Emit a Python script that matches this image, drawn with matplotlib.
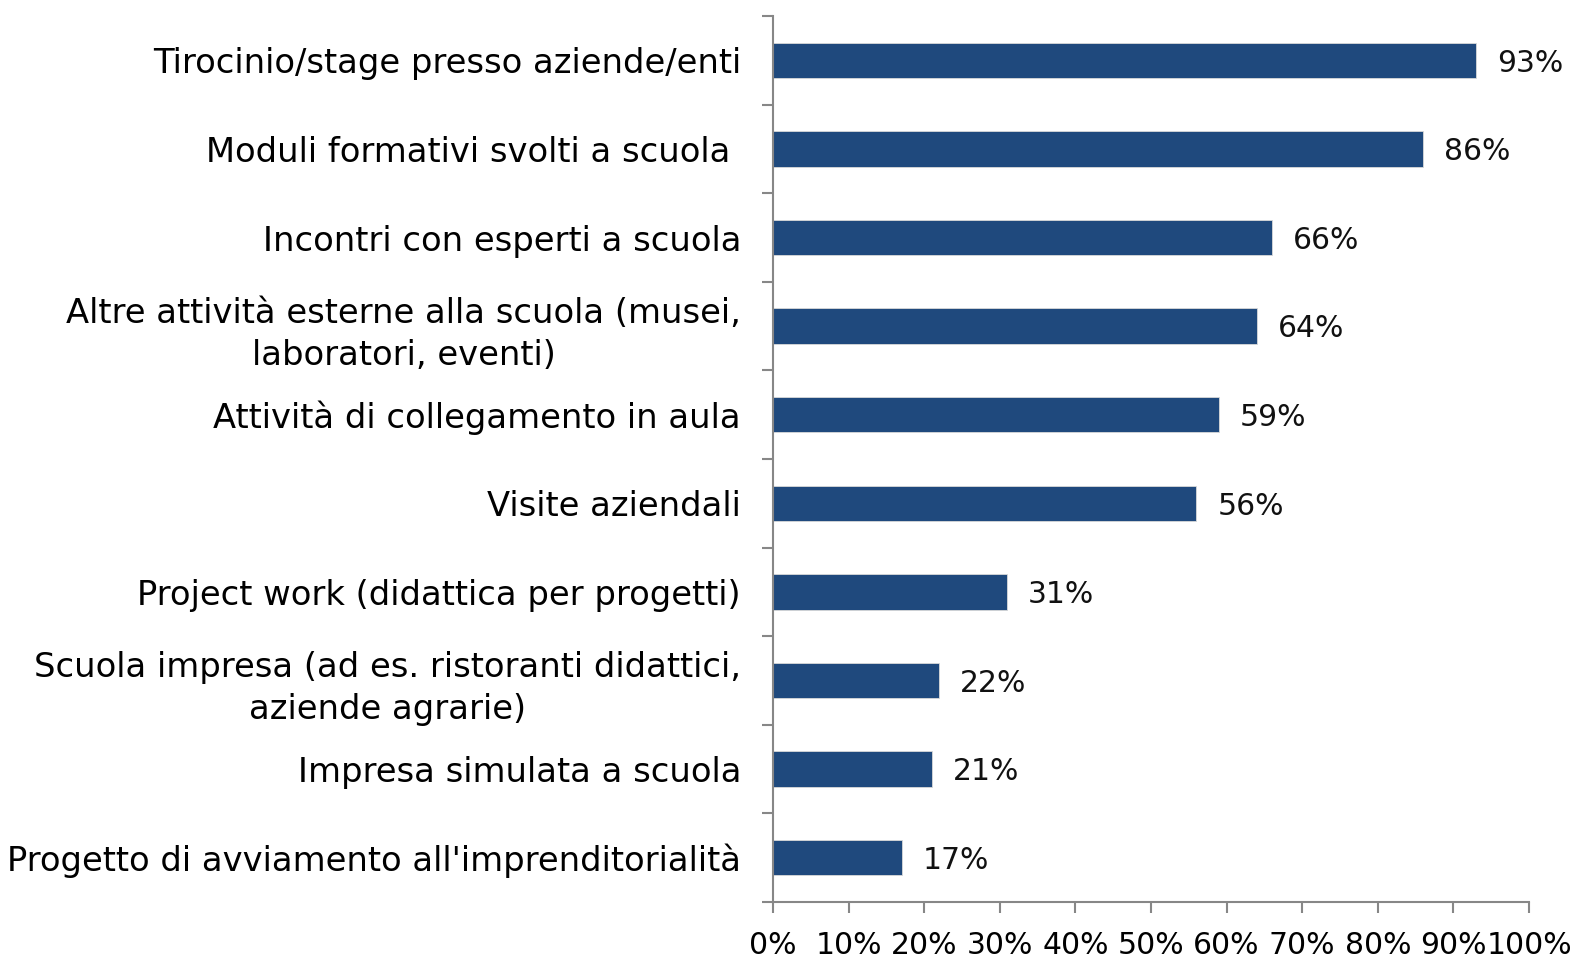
import matplotlib.pyplot as plt
import numpy as np

# Dati
categorie = [
    "Tirocinio/stage presso aziende/enti",
    "Moduli formativi svolti a scuola ",
    "Incontri con esperti a scuola",
    "Altre attività esterne alla scuola (musei,\nlaboratori, eventi)",
    "Attività di collegamento in aula",
    "Visite aziendali",
    "Project work (didattica per progetti)",
    "Scuola impresa (ad es. ristoranti didattici,\naziende agrarie)",
    "Impresa simulata a scuola",
    "Progetto di avviamento all'imprenditorialità",
]
percentuali = [93, 86, 66, 64, 59, 56, 31, 22, 21, 17]
tick_x = [0, 10, 20, 30, 40, 50, 60, 70, 80, 90, 100]

plt.rcParams['font.family'] = ['DejaVu Sans']

fig = plt.figure(figsize=(15.75, 9.6), dpi=100)
ax = fig.add_axes([0.4908, 0.0604, 0.48, 0.9229])

y = np.arange(len(categorie))
ax.barh(y, percentuali, height=0.4, color='#1F497D', edgecolor='#D9D9D9', linewidth=0.6)

# Etichette dei valori
for yi, v in zip(y, percentuali):
    ax.annotate(f"{v}%", (v, yi), xytext=(15, -2), textcoords='offset points',
                va='center', ha='left', fontsize=21.5, color='#111111')

ax.set_xlim(0, 100)
ax.set_ylim(len(categorie) - 0.5, -0.5)
ax.set_xticks(tick_x)
ax.set_xticklabels([f"{t}%" for t in tick_x], fontsize=21.5)

# tick maggiori ai confini delle categorie, etichette al centro
ax.set_yticks(np.arange(len(categorie) + 1) - 0.5)
ax.set_yticklabels([])
ax.set_yticks(y, minor=True)
ax.set_yticklabels(categorie, minor=True, fontsize=24.3, multialignment='center',
                   linespacing=1.35)
ax.tick_params(axis='y', which='minor', length=0, pad=23)
ax.tick_params(axis='y', which='major', length=8, width=1.5, color='#878787')
ax.tick_params(axis='x', length=8, width=1.5, color='#878787', pad=13)

for s in ['top', 'right']:
    ax.spines[s].set_visible(False)
for s in ['left', 'bottom']:
    ax.spines[s].set_color('#878787')
    ax.spines[s].set_linewidth(1.5)

plt.savefig('out.png', dpi=100)
